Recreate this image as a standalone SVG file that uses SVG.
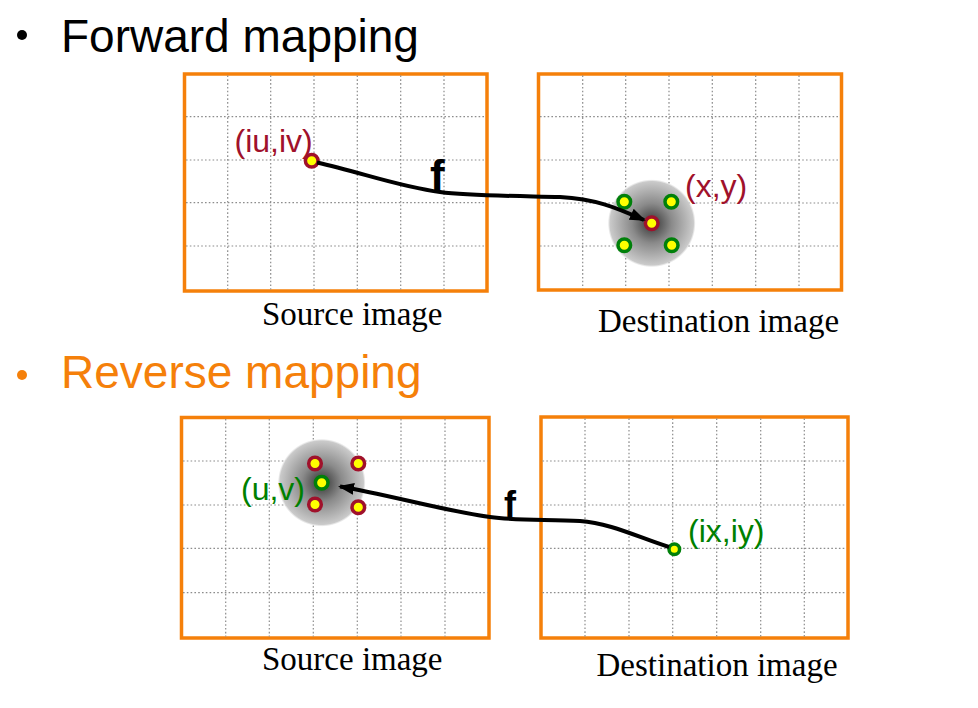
<svg xmlns="http://www.w3.org/2000/svg" width="978" height="708" viewBox="0 0 978 708">
<defs>
<style>
.title{font-family:"Liberation Sans",Arial,sans-serif;font-size:46px}
.cap{font-family:"Liberation Serif","Times New Roman",serif;font-size:33px;fill:#000}
.lbl{font-family:"Liberation Sans",Arial,sans-serif;font-size:32px}
.red{fill:#A0112B}
.grn{fill:#008000}
.fl{font-family:"Liberation Sans",Arial,sans-serif;font-weight:bold;fill:#000}
.box{fill:#fff;stroke:#F5800A;stroke-width:3.5}
.grid{stroke:#8c8c8c;stroke-width:1.2;stroke-dasharray:1.6 2.2;fill:none}
.pr{fill:#FFFF00;stroke:#A0112B;stroke-width:3.5}
.pg{fill:#FFFF00;stroke:#00800A;stroke-width:3.5}
.cv{fill:none;stroke:#000;stroke-width:4}
</style>
<radialGradient id="blur">
<stop offset="0" stop-color="#333"/>
<stop offset="0.45" stop-color="#8a8a8a"/>
<stop offset="0.85" stop-color="#bdbdbd"/>
<stop offset="0.95" stop-color="#cacaca"/>
<stop offset="1" stop-color="#d8d8d8" stop-opacity="0"/>
</radialGradient>
<marker id="ah" markerWidth="16" markerHeight="14" refX="14" refY="7" orient="auto" markerUnits="userSpaceOnUse">
<path d="M0,1 L16,7 L0,13 Z" fill="#000"/>
</marker>
</defs>
<rect width="978" height="708" fill="#fff"/>

<g id="heading-forward">
<circle cx="22" cy="35" r="5" fill="#000"/>
<text class="title" x="61" y="52" fill="#000">Forward mapping</text>
</g>
<g id="heading-reverse">
<circle cx="22" cy="375" r="5" fill="#F5800A"/>
<text class="title" x="61" y="388" fill="#F5800A">Reverse mapping</text>
</g>

<g id="fwd-source">
<rect class="box" x="184.5" y="74" width="302.5" height="217"/>
<path class="grid" d="M227.7,75.5V289.5M270.7,75.5V289.5M314,75.5V289.5M357.3,75.5V289.5M400.7,75.5V289.5M444,75.5V289.5M186,116.7H485.5M186,160H485.5M186,202.7H485.5M186,246H485.5"/>
<text class="cap" x="262" y="324.5">Source image</text>
</g>

<g id="fwd-dest">
<rect class="box" x="538.5" y="74" width="303" height="216"/>
<path class="grid" d="M582.7,75.5V288.5M625.7,75.5V288.5M669,75.5V288.5M712.3,75.5V288.5M755.7,75.5V288.5M799,75.5V288.5M540,116.7H840M540,160H840M540,203H840M540,246H840"/>
<text class="cap" x="598" y="331.5">Destination image</text>
</g>

<g id="rev-source">
<rect class="box" x="181.5" y="417.5" width="307.5" height="220.5"/>
<path class="grid" d="M225.7,419V636.5M269.3,419V636.5M313.3,419V636.5M357.3,419V636.5M401,419V636.5M445,419V636.5M183,461H487.5M183,505H487.5M183,548.3H487.5M183,592.7H487.5"/>
<text class="cap" x="262" y="669.5">Source image</text>
</g>

<g id="rev-dest">
<rect class="box" x="541" y="417" width="307" height="221"/>
<path class="grid" d="M585,418.5V636.5M629,418.5V636.5M672.7,418.5V636.5M716.7,418.5V636.5M760.7,418.5V636.5M804.3,418.5V636.5M542.5,461H846.5M542.5,505H846.5M542.5,548.3H846.5M542.5,592.7H846.5"/>
<text class="cap" x="596.5" y="675.5">Destination image</text>
</g>

<g id="pt-iuiv">
<circle class="pr" cx="311.7" cy="160.7" r="6.3"/>
<text class="lbl red" x="234.5" y="151.5">(iu,iv)</text>
</g>

<g id="pt-xy">
<circle cx="651.7" cy="223.3" r="44" fill="url(#blur)"/>
<circle class="pg" cx="624.3" cy="201.7" r="6.3"/>
<circle class="pg" cx="671.3" cy="201.7" r="6.3"/>
<circle class="pg" cx="624.3" cy="245.3" r="6.3"/>
<circle class="pg" cx="671.7" cy="245.3" r="6.3"/>
<circle class="pr" cx="651.7" cy="223.3" r="6.3"/>
<text class="lbl red" x="685" y="197">(x,y)</text>
</g>

<g id="pt-uv">
<circle cx="321.7" cy="482.7" r="44" fill="url(#blur)"/>
<circle class="pr" cx="315" cy="463.5" r="6.3"/>
<circle class="pr" cx="358.3" cy="463.5" r="6.3"/>
<circle class="pr" cx="315" cy="504.5" r="6.3"/>
<circle class="pr" cx="358.3" cy="507.3" r="6.3"/>
<circle class="pg" cx="321.7" cy="482.7" r="6.3"/>
<text class="lbl grn" x="241" y="500">(u,v)</text>
</g>

<g id="pt-ixiy">
<circle class="pg" cx="674.3" cy="549.3" r="5.3"/>
<text class="lbl grn" x="688" y="542">(ix,iy)</text>
</g>

<g id="connectors">
<path class="cv" d="M317,162.5 C360,172 400,187 440,192 C470,196 520,196 560,197 C595,199 615,207 644,220" marker-end="url(#ah)"/>
<text class="fl" x="430" y="191" font-size="44">f</text>
<path class="cv" d="M669,547 C640,538 610,523 580,521 C550,519 520,521 490,517 C440,510 390,495 340,486.5" marker-end="url(#ah)"/>
<text class="fl" x="504" y="517" font-size="36">f</text>
</g>
</svg>
